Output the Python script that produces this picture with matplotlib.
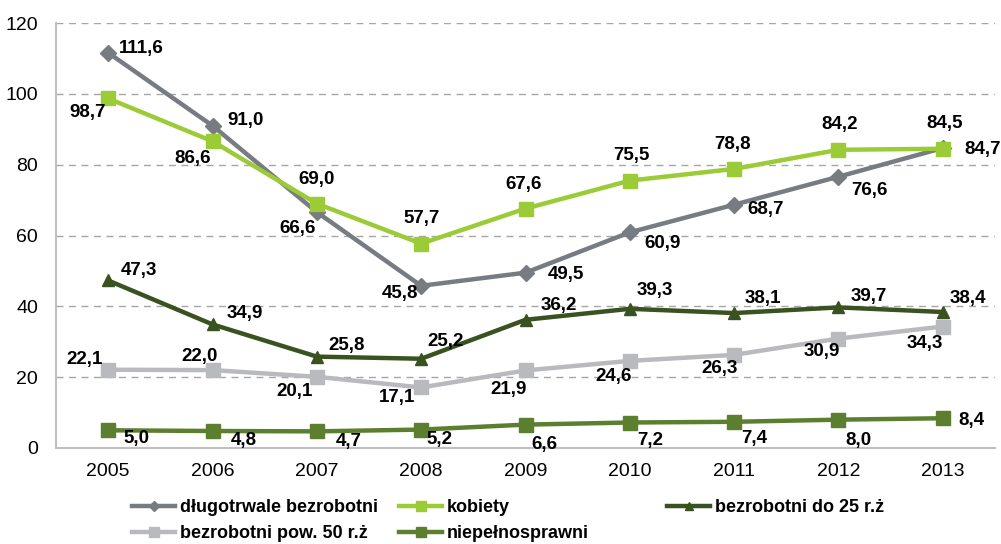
import matplotlib
matplotlib.use('Agg')
import matplotlib.pyplot as plt
from matplotlib.lines import Line2D

years = ['2005', '2006', '2007', '2008', '2009', '2010', '2011', '2012', '2013']

dlugotrwale = [111.6, 91.0, 66.6, 45.8, 49.5, 60.9, 68.7, 76.6, 84.7]
kobiety = [98.7, 86.6, 69.0, 57.7, 67.6, 75.5, 78.8, 84.2, 84.5]
do25 = [47.3, 34.9, 25.8, 25.2, 36.2, 39.3, 38.1, 39.7, 38.4]
pow50 = [22.1, 22.0, 20.1, 17.1, 21.9, 24.6, 26.3, 30.9, 34.3]
niepelnosprawni = [5.0, 4.8, 4.7, 5.2, 6.6, 7.2, 7.4, 8.0, 8.4]

names = ['długotrwale bezrobotni', 'kobiety', 'bezrobotni do 25 r.ż',
         'bezrobotni pow. 50 r.ż', 'niepełnosprawni']

# label offsets in pixels (dx, dy), like Excel's hand-placed labels
off_dl = [(33, 4), (33, 5), (-19, -16), (-21, -8), (40, -2), (33, -11), (31, -5), (31, -14), (40, -1)]
off_ko = [(-21, -14), (-20, -17), (0, 24), (0, 25), (-2, 24), (2, 25), (-2, 24), (1, 25), (2, 25)]
off_25 = [(31, 10), (32, 11), (30, 11), (24, 17), (33, 14), (25, 18), (29, 15), (30, 11), (25, 14)]
off_50 = [(-24, 10), (-13, 14), (-22, -15), (-24, -10), (-17, -19), (-16, -16), (-15, -14), (-17, -13), (-18, -17)]
off_np = [(28, -8), (31, -9), (32, -10), (18, -10), (19, -20), (20, -18), (20, -17), (20, -21), (29, -2)]

plt.rcParams['font.family'] = ['Liberation Sans', 'DejaVu Sans']

fig = plt.figure(figsize=(10.01, 5.44), dpi=100)
ax = fig.add_axes([56 / 1001, 1 - 448 / 544, (995 - 56) / 1001, (448 - 23) / 544])

x = list(range(len(years)))
series = [
    (dlugotrwale, '#777B82', 'D', 8, off_dl, 0),
    (pow50, '#B8BABE', 's', 10, off_50, 3),
    (do25, '#3A5220', '^', 9, off_25, 2),
    (niepelnosprawni, '#5B7F2E', 's', 10, off_np, 4),
    (kobiety, '#9BCB36', 's', 10, off_ko, 1),
]

handles = {}
for vals, col, mk, ms, offs, k in series:
    ax.plot(x, vals, color=col, lw=3.2, marker=mk, ms=ms, zorder=3)
    handles[k] = Line2D([], [], color=col, lw=3.2, marker=mk, ms=ms * 0.7)
    for xi, v, (dx, dy) in zip(x, vals, offs):
        ax.annotate(('%.1f' % v).replace('.', ','), (xi, v), xytext=(dx, dy),
                    textcoords='offset pixels', ha='center', va='center',
                    fontsize=13.5, fontweight='bold', color='black', zorder=4)

ax.set_xlim(-0.5, len(years) - 0.5)
ax.set_ylim(0, 120)
ax.set_yticks(range(0, 121, 20))
ax.set_xticks(x)
ax.set_xticklabels(years)
ax.tick_params(axis='both', length=0, labelsize=14)
ax.tick_params(axis='x', pad=11)
ax.tick_params(axis='y', pad=13)
ax.yaxis.grid(True, color='#A6A6A6', linestyle=(0, (5, 4)), lw=1)
ax.set_axisbelow(True)
for s in ['top', 'right']:
    ax.spines[s].set_visible(False)
for s in ['left', 'bottom']:
    ax.spines[s].set_color('#BFBFBF')
    ax.spines[s].set_linewidth(1.5)

# three legend columns placed like the original
cols = [(0, 3), (1, 4), (2,)]
col_x = [132, 399, 667]
for idx, cx in zip(cols, col_x):
    fig.legend([handles[i] for i in idx], [names[i] for i in idx],
               loc='upper left', bbox_to_anchor=(cx / 1001, 1 - 499 / 544),
               frameon=False, handlelength=2.4, handletextpad=0.25,
               labelspacing=0.5, borderpad=0, borderaxespad=0,
               prop={'weight': 'bold', 'size': 13})

fig.savefig('out.png', dpi=100)
